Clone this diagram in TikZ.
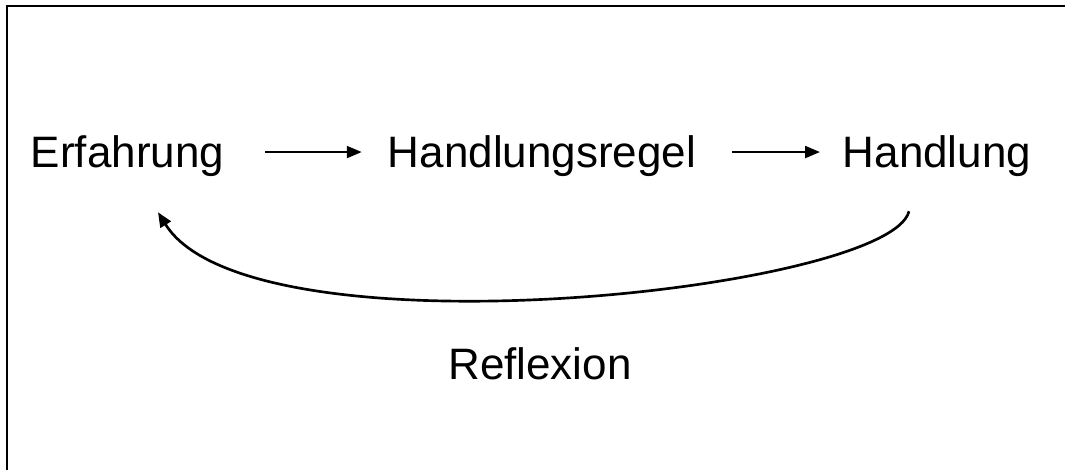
\documentclass[tikz,border=0pt]{standalone}
\usepackage{fontspec}
\setmainfont{Liberation Sans}
\usetikzlibrary{arrows.meta}

\begin{document}
\begin{tikzpicture}[x=0.75pt, y=0.75pt,
  word/.style={inner sep=0pt, text depth=0pt, anchor=base, font=\fontsize{33}{40}\selectfont},
  flow/.style={-{Triangle[length=11pt, width=9pt]}, line width=1.3pt},
  loopback/.style={-{Triangle[length=11pt, width=9pt]}, line width=2pt}]
\useasboundingbox (0, 0) rectangle (1065, 470);
% frame, right and bottom side lie outside the page
\draw[line width=1.5pt] (7, -20) -- (7, 464) -- (1085, 464);

\node[word] (erf) at (127.5, 302) {Erfahrung};
\node[word] (hreg) at (542, 302) {Handlungsregel};
\node[word] (hand) at (937, 302) {Handlung};
\node[word] (refl) at (540, 90) {Reflexion};

\draw[flow, shorten <=30.5pt, shorten >=19.5pt] (erf.east) -- (hreg.west);
\draw[flow, shorten <=27pt, shorten >=17pt] (hreg.east) -- (hand.west);
\draw[loopback] ([shift={(-28,-43)}]hand.south) .. controls +(-19,-79) and +(92,-148) .. ([shift={(30.5,-44)}]erf.south);
\end{tikzpicture}
\end{document}
